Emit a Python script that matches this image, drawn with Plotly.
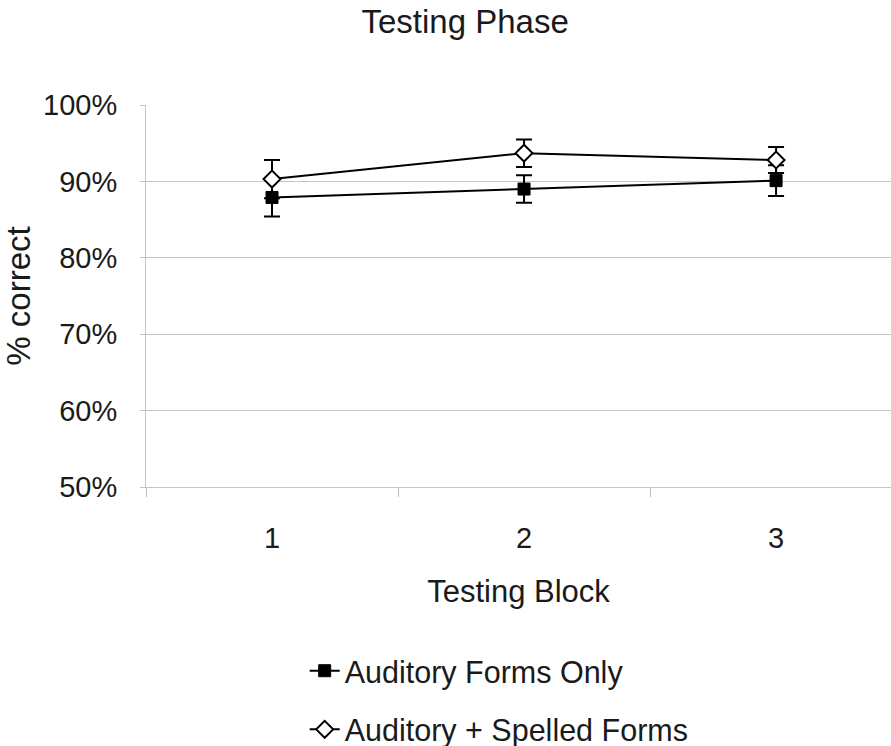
import plotly.graph_objects as go

blocks = [1, 2, 3]
block_labels = ["1", "2", "3"]
auditory_only = [0.879, 0.890, 0.901]
auditory_only_err = [0.025, 0.018, 0.020]
auditory_spelled = [0.903, 0.937, 0.928]
auditory_spelled_err = [0.025, 0.018, 0.017]

font_family = "Liberation Sans, Arial, sans-serif"
txt = "#1a1a1a"

fig = go.Figure()
fig.add_trace(go.Scatter(
    x=blocks, y=auditory_only, name="Auditory Forms Only", legendgroup="a",
    mode="lines+markers",
    line=dict(color="black", width=2),
    marker=dict(symbol="square", size=12, color="black", line=dict(color="black", width=1)),
    error_y=dict(type="data", array=auditory_only_err, color="black", thickness=2, width=8),
))
fig.add_trace(go.Scatter(
    x=blocks, y=auditory_spelled, name="Auditory + Spelled Forms", legendgroup="b",
    mode="lines+markers",
    line=dict(color="black", width=2),
    marker=dict(symbol="diamond", size=13, color="white", line=dict(color="black", width=2)),
    error_y=dict(type="data", array=auditory_spelled_err, color="black", thickness=2, width=8),
))

fig.update_layout(
    width=891, height=746,
    paper_bgcolor="white", plot_bgcolor="white",
    margin=dict(l=146, r=0, t=105, b=259, autoexpand=False),
    font=dict(family=font_family, size=29, color=txt),
    title=dict(text="Testing Phase", x=0.522, xanchor="center", y=1 - 21/746, yanchor="middle",
               font=dict(size=33, color=txt)),
    showlegend=True,
    legend=dict(orientation="v", x=0.213, xanchor="left", y=-0.412, yanchor="top",
                font=dict(size=30.5, color=txt), tracegroupgap=16, traceorder="grouped",
                bgcolor="rgba(0,0,0,0)"),
)
fig.update_xaxes(
    range=[0.5, 3.456], tickmode="array", tickvals=blocks, ticktext=block_labels,
    ticks="", showgrid=False, zeroline=False, automargin=False,
    showline=True, linecolor="#c4c4c4", linewidth=1, ticklabelstandoff=25,
    minor=dict(tick0=0.5, dtick=1, ticks="outside", ticklen=9, tickcolor="#bdbdbd", tickwidth=1, showgrid=False),
    title=dict(text="Testing Block", standoff=27, font=dict(size=31, color=txt)),
)
fig.update_yaxes(
    range=[0.5, 1.0], tickmode="linear", tick0=0.5, dtick=0.1, tickformat=".0%",
    showgrid=True, gridcolor="#c4c4c4", gridwidth=1, automargin=False,
    showline=True, linecolor="#c4c4c4", linewidth=1,
    ticks="outside", ticklen=5, tickcolor="#c4c4c4",
    zeroline=False, ticklabelstandoff=17,
    title=dict(text="% correct", standoff=2, font=dict(size=33, color=txt)),
)

fig.write_html("out.html", config={"displayModeBar": False},
               post_script="document.body.style.margin='0';")
